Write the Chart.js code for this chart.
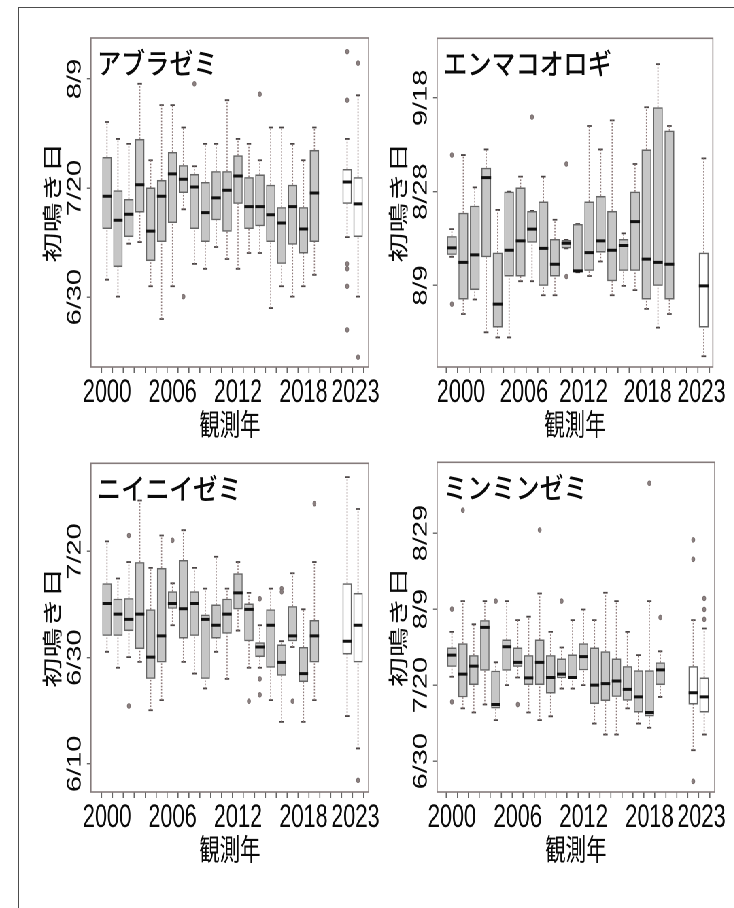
<!DOCTYPE html>
<html lang="ja">
<head>
<meta charset="UTF-8">
<meta name="viewport" content="width=device-width, initial-scale=1.0">
<title>初鳴き日の推移</title>
<script src="https://cdn.jsdelivr.net/npm/chart.js"></script>
<style>
  html, body { margin: 0; padding: 0; background: #fff; }
  #page { position: relative; width: 734px; height: 908px; overflow: hidden; background: #fff; }
  #frame { position: absolute; left: 18px; top: 7px; right: -10px; bottom: -10px;
           border-left: 1.5px solid #4d4d4d; border-top: 1.5px solid #4d4d4d; }
  /* the whole figure is horizontally condensed, so draw wide and squeeze */
  #sheet { position: absolute; left: 0; top: 0; width: 1080px; height: 908px;
           transform: scaleX(0.68); transform-origin: 0 0; }
  .panel { position: absolute; width: 520px; height: 440px; }
</style>
</head>
<body>
<div id="page">
  <div id="frame"></div>
  <div id="sheet">
    <div class="panel" style="left:40px;top:10px"><canvas id="tl" width="520" height="440"></canvas></div>
    <div class="panel" style="left:549px;top:10px"><canvas id="tr" width="520" height="440"></canvas></div>
    <div class="panel" style="left:40px;top:435px"><canvas id="bl" width="520" height="440"></canvas></div>
    <div class="panel" style="left:549px;top:435px"><canvas id="br" width="520" height="440"></canvas></div>
  </div>
</div>

<script>
// values are day of year (6/30 = 181, 7/20 = 201, 8/9 = 221 ...)
// each box: [lower whisker, Q1, median, Q3, upper whisker]

const yearLabels = ['2000', '2001', '2002', '2003', '2004', '2005', '2006', '2007', '2008', '2009',
                    '2010', '2011', '2012', '2013', '2014', '2015', '2016', '2017', '2018', '2019'];
const xTickLabels = ['2000', '2006', '2012', '2018', '2023'];

// アブラゼミ
const aburaBoxes = [
    [184.2, 193.5, 199.5, 206.7, 213.1], [181.1, 186.5, 195.1, 200.6, 210.0],
    [190.8, 192.0, 196.2, 199.0, 209.1], [191.1, 196.5, 201.6, 210.0, 220.1],
    [183.0, 187.6, 193.1, 201.1, 206.1], [177.0, 191.1, 199.5, 202.5, 216.2],
    [183.0, 194.6, 203.6, 207.6, 216.2], [197.1, 200.1, 202.6, 205.2, 212.1],
    [187.1, 193.5, 201.2, 203.6, 205.0], [186.2, 191.1, 196.5, 202.1, 209.1],
    [190.2, 195.1, 199.2, 204.1, 209.1], [188.0, 193.0, 200.6, 204.1, 217.1],
    [186.2, 198.1, 203.2, 207.0, 210.0], [189.1, 193.5, 197.6, 203.0, 209.1],
    [189.1, 194.0, 197.6, 203.5, 206.1], [179.0, 191.1, 196.1, 201.6, 212.1],
    [183.0, 187.1, 194.6, 197.5, 212.1], [181.1, 190.6, 197.6, 201.6, 209.1],
    [183.0, 189.0, 193.5, 197.5, 206.1], [185.1, 191.1, 200.1, 208.0, 212.1],
    [192.0, 198.1, 202.1, 204.5, 210.0], [181.1, 192.0, 198.1, 203.0, 218.0]
];
const aburaOutliers = [[], [], [], [], [], [], [], [181.1], [220.1], [], [], [], [], [], [218.2],
    [], [], [], [], [], [226.0, 217.1, 187.1, 186.2, 183.0, 175.0], [223.9, 170.0]];
const aburaTicks = [181, 201, 221];
const aburaTickLabels = ['6/30', '7/20', '8/9'];

// エンマコオロギ
const enmaBoxes = [
    [227.1, 227.5, 229.0, 231.5, 233.0], [214.9, 218.0, 225.9, 236.5, 248.8],
    [218.0, 220.0, 227.5, 238.0, 241.9], [211.0, 227.0, 244.0, 246.1, 250.0],
    [209.9, 212.0, 217.0, 228.0, 237.1], [209.9, 222.9, 228.5, 241.0, 241.0],
    [221.9, 222.9, 230.5, 241.9, 244.2], [221.9, 230.1, 233.0, 236.9, 236.9],
    [218.9, 220.9, 228.9, 238.9, 244.2], [218.9, 222.9, 225.5, 230.9, 235.0],
    [228.9, 228.9, 230.0, 230.7, 230.7], [223.8, 223.8, 224.1, 234.1, 234.1],
    [223.0, 224.1, 228.0, 238.9, 255.0], [226.1, 228.0, 230.5, 240.1, 250.0],
    [218.9, 221.9, 228.5, 236.9, 256.2], [220.9, 224.1, 229.5, 230.9, 232.1],
    [220.0, 224.1, 234.6, 241.0, 246.9], [216.0, 218.0, 226.6, 250.0, 259.0],
    [212.0, 220.9, 225.9, 259.0, 268.2], [214.9, 218.0, 225.5, 254.0, 255.0],
    [205.9, 212.0, 220.9, 228.0, 248.1]
];
const enmaOutliers = [[248.8, 217.0], [], [], [], [], [], [], [256.9], [], [], [246.9, 222.9],
    [], [], [], [], [], [], [], [], [], []];
const enmaTicks = [221, 241, 261];
const enmaTickLabels = ['8/9', '8/28', '9/18'];

// ニイニイゼミ
const niiBoxes = [
    [182.1, 185.1, 191.2, 195.0, 202.9], [179.1, 185.1, 189.2, 192.1, 195.9],
    [181.1, 186.0, 188.2, 192.2, 199.0], [180.2, 182.6, 189.2, 199.0, 210.6],
    [171.1, 177.0, 181.1, 190.1, 197.9], [173.0, 180.1, 185.1, 197.9, 204.0],
    [187.1, 190.2, 191.2, 193.5, 195.0], [180.2, 184.6, 190.2, 199.4, 205.0],
    [178.0, 185.1, 191.2, 193.5, 197.9], [175.2, 177.0, 188.2, 189.1, 194.0],
    [182.1, 184.6, 187.1, 191.0, 200.0], [177.0, 185.5, 189.2, 192.1, 194.0],
    [186.1, 190.1, 193.2, 196.9, 199.0], [179.1, 184.1, 190.1, 191.2, 193.2],
    [179.1, 181.1, 183.0, 183.9, 187.1], [173.0, 179.1, 187.1, 190.1, 194.0],
    [168.9, 177.6, 180.1, 183.5, 184.1], [183.0, 184.1, 185.1, 190.7, 196.9],
    [168.9, 176.4, 178.0, 183.0, 190.1], [173.0, 180.1, 185.1, 188.1, 199.0],
    [170.0, 181.6, 184.1, 195.0, 215.0], [163.9, 180.1, 187.1, 193.2, 209.0]
];
const niiOutliers = [[], [], [204.0, 171.9], [], [], [], [203.1], [], [], [], [], [], [], [172.8],
    [192.1, 177.0, 174.0], [], [194.0, 193.4], [172.8], [], [210.0], [], [157.9]];
const niiTicks = [161, 181, 201];
const niiTickLabels = ['6/10', '6/30', '7/20'];

// ミンミンゼミ
const minBoxes = [
    [203.2, 205.8, 208.9, 210.9, 215.0], [194.9, 197.8, 203.9, 212.0, 223.1],
    [193.8, 201.0, 206.0, 208.9, 217.0], [195.9, 204.8, 216.2, 218.1, 223.1],
    [191.8, 194.9, 195.9, 204.8, 207.0], [201.0, 204.8, 211.1, 213.0, 223.1],
    [203.0, 205.8, 207.0, 210.9, 218.1], [193.8, 201.0, 202.9, 208.9, 219.0],
    [191.8, 201.0, 207.0, 213.0, 225.1], [192.8, 198.8, 203.0, 208.9, 215.0],
    [200.1, 202.8, 203.9, 208.0, 210.9], [200.1, 202.6, 203.0, 209.1, 218.1],
    [201.0, 204.9, 208.5, 212.0, 220.9], [190.9, 196.0, 201.0, 210.9, 218.1],
    [188.0, 196.8, 201.4, 209.9, 225.3], [188.0, 197.9, 202.1, 208.0, 223.1],
    [194.9, 196.9, 199.9, 206.0, 215.0], [190.9, 193.8, 197.9, 204.9, 208.9],
    [189.8, 192.8, 193.8, 204.9, 223.1], [197.9, 201.0, 205.0, 207.0, 209.9],
    [183.9, 195.9, 199.0, 206.0, 218.1], [188.0, 193.8, 197.9, 203.0, 215.9]
];
const minOutliers = [[221.0, 196.6], [247.0], [], [], [223.1], [], [195.9], [], [241.8], [],
    [223.1], [], [], [], [], [], [], [], [254.1], [218.8], [239.2, 234.1, 175.7], [223.8, 220.9, 218.3]];
const minTicks = [181, 201, 221, 241];
const minTickLabels = ['6/30', '7/20', '8/9', '8/29'];

const panels = [
    { id: 'tl', name: 'アブラゼミ', cats: [...yearLabels, '2023', '2023'],
      boxes: aburaBoxes, outliers: aburaOutliers, yTicks: aburaTicks, yTickLabels: aburaTickLabels,
      yMin: 168.2, yMax: 228.5, xMin: -1.47, xMax: 23.97, labelAt: [0, 6, 12, 18, 22.75],
      pad: { top: 28, right: 12 } },
    { id: 'tr', name: 'エンマコオロギ', cats: [...yearLabels, '2023'],
      boxes: enmaBoxes, outliers: enmaOutliers, yTicks: enmaTicks, yTickLabels: enmaTickLabels,
      yMin: 203.6, yMax: 273.7, xMin: -1.29, xMax: 22.8, labelAt: [0.8, 6.3, 11.5, 17.1, 21.8],
      pad: { top: 28.3, right: 13 } },
    { id: 'bl', name: 'ニイニイゼミ', cats: [...yearLabels, '2023', '2023'],
      boxes: niiBoxes, outliers: niiOutliers, yTicks: niiTicks, yTickLabels: niiTickLabels,
      yMin: 155.7, yMax: 217.6, xMin: -1.47, xMax: 23.97, labelAt: [0, 6, 12, 18, 22.75],
      pad: { top: 28.3, right: 12 } },
    { id: 'br', name: 'ミンミンゼミ', cats: [...yearLabels, '2023', '2023'],
      boxes: minBoxes, outliers: minOutliers, yTicks: minTicks, yTickLabels: minTickLabels,
      yMin: 172.9, yMax: 259.6, xMin: -1.35, xMax: 23.96, labelAt: [0, 6, 12, 18, 22.75],
      pad: { top: 27.3, right: 13 } }
];

const CJK = "'Noto Sans CJK JP', 'Noto Sans CJK SC', sans-serif";
Chart.defaults.font.family = "'Liberation Sans', Arial, sans-serif";
Chart.defaults.color = '#0a0a0a';

// gray boxes sit on their year, the 2023 boxes after a gap
function slotOf(p, i) {
    return i < yearLabels.length ? i : 22 + (i - yearLabels.length);
}

// frame around the plot + species name in the top-left corner
const panelDecor = {
    id: 'panelDecor',
    afterDatasetsDraw(chart, args, opts) {
        const ctx = chart.ctx;
        const a = chart.chartArea;
        ctx.save();
        ctx.strokeStyle = '#857b7b';
        ctx.lineWidth = 1.6;
        ctx.strokeRect(a.left, a.top, a.right - a.left, a.bottom - a.top);
        ctx.translate(a.left + 9, a.top + 25);
        ctx.scale(1.22, 1);
        ctx.font = "500 29px " + CJK;
        ctx.fillStyle = '#0a0a0a';
        ctx.textBaseline = 'middle';
        ctx.fillText(opts.name, 0, 0);
        ctx.restore();
    }
};

function makeChart(p) {
    const boxData = [], medianData = [], whiskerData = [], capData = [], outData = [];

    p.boxes.forEach((b, i) => {
        const s = slotOf(p, i);
        boxData.push({ x: s, y: [b[1], b[3]] });
        medianData.push({ x: s - 0.425, y: b[2] }, { x: s + 0.425, y: b[2] }, { x: s, y: null });
        whiskerData.push({ x: s, y: b[0] }, { x: s, y: b[1] }, { x: s, y: null },
                         { x: s, y: b[3] }, { x: s, y: b[4] }, { x: s, y: null });
        capData.push({ x: s - 0.2, y: b[0] }, { x: s + 0.2, y: b[0] }, { x: s, y: null },
                     { x: s - 0.2, y: b[4] }, { x: s + 0.2, y: b[4] }, { x: s, y: null });
        p.outliers[i].forEach(v => outData.push({ x: s, y: v }));
    });

    const fills = p.cats.map(c => c === '2023' ? '#ffffff' : '#c6c6c6');

    // integer slots carry tick marks, the label axis carries the year text
    const markTicks = [];
    for (let i = 0; i <= Math.floor(p.xMax); i++) markTicks.push(i);

    new Chart(document.getElementById(p.id), {
        type: 'bar',
        data: {
            datasets: [
                { type: 'line', label: 'median', data: medianData, order: 0,
                  borderColor: '#111', borderWidth: 3, borderCapStyle: 'butt',
                  pointRadius: 0, spanGaps: false, xAxisID: 'x', yAxisID: 'y' },
                { type: 'scatter', label: 'outliers', data: outData, order: 1,
                  pointRadius: 2.4, pointBackgroundColor: '#8a7f7f', pointBorderColor: '#746a6a',
                  pointBorderWidth: 0.8, xAxisID: 'x', yAxisID: 'y' },
                { type: 'bar', label: 'box', data: boxData, order: 2,
                  backgroundColor: fills, borderColor: '#666666', borderWidth: 1.6,
                  borderSkipped: false, barPercentage: 0.85, categoryPercentage: 1,
                  xAxisID: 'x', yAxisID: 'y' },
                { type: 'line', label: 'whisker', data: whiskerData, order: 3,
                  borderColor: '#8f7b7b', borderWidth: 1.6, borderDash: [1.6, 1.6],
                  pointRadius: 0, spanGaps: false, xAxisID: 'x', yAxisID: 'y' },
                { type: 'line', label: 'cap', data: capData, order: 3,
                  borderColor: '#4a4444', borderWidth: 1.8, borderCapStyle: 'butt',
                  pointRadius: 0, spanGaps: false, xAxisID: 'x', yAxisID: 'y' }
            ]
        },
        options: {
            responsive: false,
            devicePixelRatio: 2,
            animation: false,
            layout: { padding: { top: p.pad.top, right: p.pad.right, bottom: 0, left: 0 } },
            plugins: {
                legend: { display: false },
                tooltip: { enabled: false },
                panelDecor: { name: p.name }
            },
            scales: {
                x: {
                    type: 'linear', position: 'bottom', weight: 0,
                    min: p.xMin, max: p.xMax, offset: false,
                    border: { display: false },
                    grid: { drawOnChartArea: false, drawTicks: true, tickLength: 6,
                            lineWidth: 1.6, color: '#666666' },
                    ticks: { display: false },
                    afterBuildTicks: s => { s.ticks = markTicks.map(v => ({ value: v })); },
                    afterFit: s => { s.height = 6; }
                },
                x2: {
                    type: 'linear', position: 'bottom', weight: 1,
                    min: p.xMin, max: p.xMax, offset: false,
                    border: { display: false },
                    grid: { display: false, drawTicks: false },
                    ticks: {
                        autoSkip: false, maxRotation: 0, minRotation: 0, padding: 1,
                        font: { size: 32 }, color: '#0a0a0a',
                        callback: v => {
                            const k = p.labelAt.indexOf(v);
                            return k >= 0 ? xTickLabels[k] : '';
                        }
                    },
                    afterBuildTicks: s => { s.ticks = p.labelAt.map(v => ({ value: v })); },
                    afterFit: s => { s.height = 77; },
                    title: { display: true, text: '観測年', color: '#0a0a0a',
                             font: { family: CJK, size: 30 }, padding: { top: 0, bottom: 8 } }
                },
                y: {
                    type: 'linear', position: 'left',
                    min: p.yMin, max: p.yMax,
                    border: { display: false },
                    grid: { drawOnChartArea: false, tickLength: 6, lineWidth: 1.4, color: '#666666' },
                    ticks: {
                        minRotation: 90, maxRotation: 90, crossAlign: 'center', padding: -11,
                        font: { size: 29 }, color: '#0a0a0a',
                        callback: v => {
                            const k = p.yTicks.indexOf(v);
                            return k >= 0 ? p.yTickLabels[k] : '';
                        }
                    },
                    afterBuildTicks: s => { s.ticks = p.yTicks.map(v => ({ value: v })); },
                    afterFit: s => { s.width = 93.8; },
                    title: { display: true, text: '初鳴き日', color: '#0a0a0a',
                             font: { family: CJK, size: 30 }, padding: { top: 18.5, bottom: 0 } }
                }
            }
        },
        plugins: [panelDecor]
    });
}

panels.forEach(makeChart);
</script>
</body>
</html>
